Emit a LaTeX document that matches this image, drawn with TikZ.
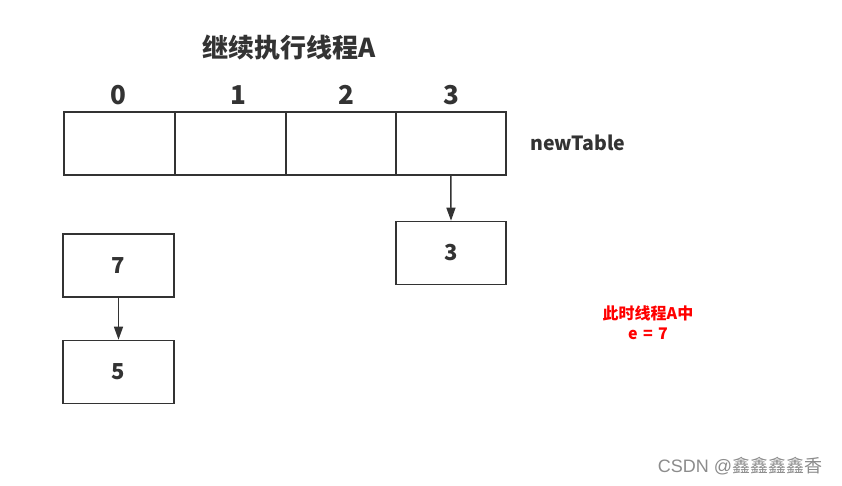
\documentclass[tikz,border=0pt]{standalone}
\usepackage{fontspec}
\setmainfont{Noto Sans CJK SC}
\newfontfamily\wmfont{Liberation Sans}
\newfontfamily\wmcjk{Noto Sans CJK SC}
\usetikzlibrary{arrows.meta}
\definecolor{ln}{HTML}{333333}
\tikzset{
  cell/.style={draw=ln, line width=1.6pt, minimum width=111pt, minimum height=63pt, inner sep=0pt, anchor=north west},
  idx/.style={font=\bfseries\fontsize{26}{30}\selectfont, text=ln},
  num/.style={font=\bfseries\fontsize{22}{26}\selectfont, text=ln},
  conn/.style={draw=ln, line width=1.4pt, -{Triangle[length=13pt,width=9pt]}}
}
\begin{document}
\begin{tikzpicture}[x=1pt,y=-1pt]
\useasboundingbox (0,0) rectangle (842,486);
\fill[white] (0,0) rectangle (842,486);
\node[font=\bfseries\fontsize{26}{30}\selectfont, text=ln] (title) at (289,48) {继续执行线程A};
\node[idx] (i0) at (118,95) {0};
\node[idx] (i1) at (238,95) {1};
\node[idx] (i2) at (346,95) {2};
\node[idx] (i3) at (451,95) {3};
\node[cell] (c0) at (63,111) {};
\node[cell, minimum width=111pt] (c1) at (174,111) {};
\node[cell, minimum width=110pt] (c2) at (285,111) {};
\node[cell, minimum width=110pt] (c3) at (395,111) {};
\node[font=\bfseries\fontsize{19.5}{22}\selectfont, text=ln] (nt) at (578,143) {newTable};
\node[cell, num, anchor=center] (b7) at (118.5,265.5) {7};
\node[cell, num, anchor=center] (b5) at (118.5,372) {5};
\node[cell, num, anchor=center, minimum width=110pt] (b3) at (451,253) {3};
\draw[conn] (c3.south) -- (b3.north);
\draw[conn] (b7.south) -- (b5.north);
\node[text=red, font=\bfseries\fontsize{16}{20}\selectfont, align=center] (note) at (648,323) {此时线程A中\\e\,\,=\,\,7};
\node[text=black!45, font=\fontsize{18}{22}\selectfont] (wm) at (740,466) {{\wmfont CSDN @}{\wmcjk 鑫鑫鑫鑫香}};
\end{tikzpicture}
\end{document}
